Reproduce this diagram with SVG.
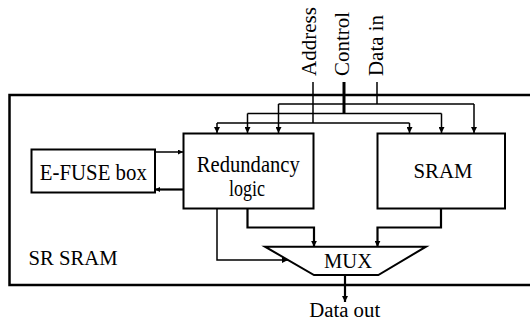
<svg xmlns="http://www.w3.org/2000/svg" width="530" height="325" viewBox="0 0 530 325">
  <defs>
    <marker id="arr" viewBox="0 0 10 10" refX="10" refY="5" markerWidth="6" markerHeight="6" markerUnits="userSpaceOnUse" orient="auto">
      <path d="M0,0 L10,5 L0,10 z" fill="#000"/>
    </marker>
    <marker id="arrS" viewBox="0 0 10 10" refX="10" refY="5" markerWidth="5" markerHeight="5" markerUnits="userSpaceOnUse" orient="auto">
      <path d="M0,0 L10,5 L0,10 z" fill="#000"/>
    </marker>
  </defs>
  <style>
    .box { fill: #fff; stroke: #000; stroke-width: 2; }
    .frame { fill: none; stroke: #000; stroke-width: 2.5; }
    .wire { fill: none; stroke: #000; stroke-width: 1.5; }
    .bold { fill: none; stroke: #000; stroke-width: 2.2; }
    .lbl { font-family: "Liberation Serif", "Times New Roman", serif; fill: #000; }
    .mid { text-anchor: middle; }
    .big { font-size: 24px; }
    .med { font-size: 22px; }
    .sm { font-size: 20px; }
  </style>

  <rect width="530" height="325" fill="#fff"/>

  <!-- SR SRAM enclosure (open on the right) -->
  <g id="sr-sram">
    <path class="frame" d="M530,95 H9.5 V285 H530"/>
    <text class="lbl sm" x="28.5" y="265" textLength="89" lengthAdjust="spacingAndGlyphs">SR SRAM</text>
  </g>

  <g id="efuse">
    <rect class="box" x="31.5" y="149.5" width="123.5" height="43"/>
    <text class="lbl mid big" x="93.3" y="180" textLength="107" lengthAdjust="spacingAndGlyphs">E-FUSE box</text>
  </g>

  <g id="redundancy">
    <rect class="box" x="183.5" y="133.5" width="130" height="75"/>
    <text class="lbl mid big" x="248.3" y="171.5" textLength="103" lengthAdjust="spacingAndGlyphs">Redundancy</text>
    <text class="lbl mid big" x="247" y="195.5" textLength="36" lengthAdjust="spacingAndGlyphs">logic</text>
  </g>

  <g id="sram">
    <rect class="box" x="377.5" y="133.5" width="127.5" height="75"/>
    <text class="lbl mid med" x="443" y="177.5" textLength="59" lengthAdjust="spacingAndGlyphs">SRAM</text>
  </g>

  <g id="mux">
    <path class="box" d="M265,246.7 H426 L378.3,275 H314 Z" stroke-width="1.5"/>
    <text class="lbl mid med" x="348" y="267.5" textLength="48" lengthAdjust="spacingAndGlyphs">MUX</text>
  </g>

  <!-- external signal labels -->
  <g id="inputs">
    <text class="lbl sm" transform="translate(315.5,76) rotate(-90)" textLength="69" lengthAdjust="spacingAndGlyphs">Address</text>
    <text class="lbl sm" transform="translate(349,76) rotate(-90)" textLength="64" lengthAdjust="spacingAndGlyphs">Control</text>
    <text class="lbl sm" transform="translate(383,76) rotate(-90)" textLength="61" lengthAdjust="spacingAndGlyphs">Data in</text>
  </g>
  <g id="output">
    <text class="lbl mid sm" x="344.7" y="316.7" textLength="71" lengthAdjust="spacingAndGlyphs">Data out</text>
  </g>

  <g id="connectors">
    <!-- Data in bus -->
    <path class="wire" d="M377,82 V104"/>
    <path class="wire" d="M278.5,104 H474"/>
    <path class="wire" d="M278.5,104 V133" marker-end="url(#arr)"/>
    <path class="wire" d="M474,104 V133" marker-end="url(#arr)"/>
    <!-- Control bus -->
    <path fill="none" stroke="#000" stroke-width="3" d="M344,82 V113.5"/>
    <path class="wire" d="M247.5,113.5 H441.5"/>
    <path class="wire" d="M247.5,113.5 V133" marker-end="url(#arr)"/>
    <path class="wire" d="M441.5,113.5 V133" marker-end="url(#arr)"/>
    <!-- Address bus -->
    <path class="wire" d="M313,82 V123"/>
    <path class="wire" d="M217,123 H409.5"/>
    <path class="wire" d="M217,123 V133" marker-end="url(#arr)"/>
    <path class="wire" d="M409.5,123 V133" marker-end="url(#arr)"/>
    <!-- E-FUSE <-> redundancy logic -->
    <path class="wire" stroke-width="1.2" d="M155,152 H183" marker-end="url(#arrS)"/>
    <path class="bold" d="M183,189.5 H155" marker-end="url(#arrS)"/>
    <!-- into MUX -->
    <path class="wire" d="M217,208.5 V260 H288" marker-end="url(#arr)"/>
    <path class="bold" d="M247.5,208.5 V227.5 H314 V246.7" marker-end="url(#arr)"/>
    <path class="bold" d="M441,208.5 V227.5 H377.5 V246.7" marker-end="url(#arr)"/>
    <!-- MUX output -->
    <path class="bold" d="M345,275 V302" marker-end="url(#arr)"/>
  </g>
</svg>
